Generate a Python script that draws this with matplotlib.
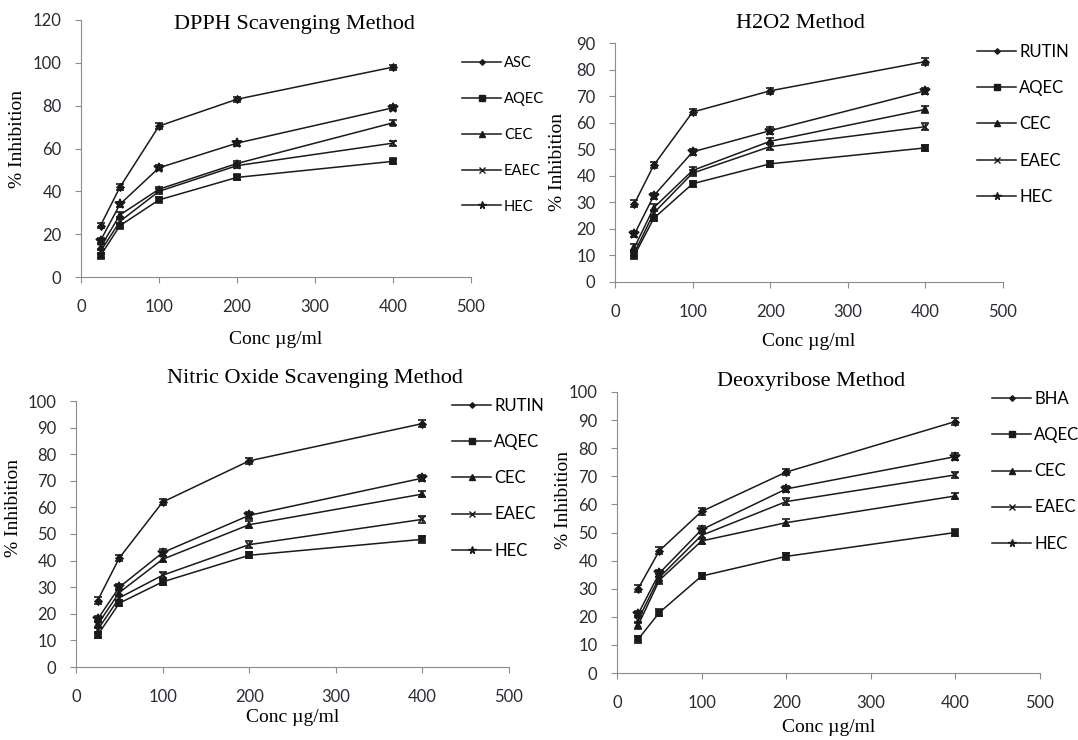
import matplotlib
matplotlib.use("Agg")
import matplotlib.pyplot as plt
from matplotlib.lines import Line2D
import numpy as np

# concentrations (ug/ml)
CONC = [25, 50, 100, 200, 400]

# DPPH scavenging
DPPH_NAMES = ["ASC", "AQEC", "CEC", "EAEC", "HEC"]
DPPH_ASC = [24, 42, 70.5, 83, 98]
DPPH_AQEC = [10, 24, 36, 46.5, 54]
DPPH_CEC = [14, 29, 41, 53, 72]
DPPH_EAEC = [12, 26, 40, 52, 62.5]
DPPH_HEC = [17, 34, 51, 62.5, 79]

# H2O2 method
H2O2_NAMES = ["RUTIN", "AQEC", "CEC", "EAEC", "HEC"]
H2O2_RUTIN = [29.5, 44, 64, 72, 83]
H2O2_AQEC = [10, 24, 37, 44.5, 50.5]
H2O2_CEC = [13, 28, 42, 53, 65]
H2O2_EAEC = [11, 26, 41, 51, 58.5]
H2O2_HEC = [18, 32.5, 49, 57, 72]

# nitric oxide scavenging
NO_NAMES = ["RUTIN", "AQEC", "CEC", "EAEC", "HEC"]
NO_RUTIN = [25, 41, 62, 77.5, 91.5]
NO_AQEC = [12, 24, 32, 42, 48]
NO_CEC = [16, 28, 40.5, 53.5, 65]
NO_EAEC = [14, 26, 34.5, 46, 55.5]
NO_HEC = [18, 30, 43, 57, 71]

# deoxyribose method
DEOXY_NAMES = ["BHA", "AQEC", "CEC", "EAEC", "HEC"]
DEOXY_BHA = [30, 43.5, 57.5, 71.5, 89.5]
DEOXY_AQEC = [12, 21.5, 34.5, 41.5, 50]
DEOXY_CEC = [17, 33, 47, 53.5, 63]
DEOXY_EAEC = [19, 34, 49, 61, 70.5]
DEOXY_HEC = [21, 35.5, 51, 65.5, 77]

# approximate SEM shown as small error bars
ERR = [1.2, 1.2, 1.2, 1.2, 1.2]

MARKERS = ["D", "s", "^", "x", "*"]
MSIZES = [3.5, 5, 5, 5, 7]
INK = "#1a1a1a"
AXIS_GREY = "#8c8c8c"
SERIF = "Liberation Serif"

W, H = 1078, 740

# layout in pixels: axes box (left, right, top, bottom), title centre,
# y of x-label, centre of y-label, legend top-left and its font size
panels = [
    dict(title="DPPH Scavenging Method", names=DPPH_NAMES,
         series=[DPPH_ASC, DPPH_AQEC, DPPH_CEC, DPPH_EAEC, DPPH_HEC],
         ymax=120, ystep=20, box=(81, 471, 20, 277), title_xy=(294, 25),
         xlab_y=340, ylab_xy=(18, 139), legend=(462, 56), leg_fs=10.6),
    dict(title="H2O2 Method", names=H2O2_NAMES,
         series=[H2O2_RUTIN, H2O2_AQEC, H2O2_CEC, H2O2_EAEC, H2O2_HEC],
         ymax=90, ystep=10, box=(615, 1003, 43, 282), title_xy=(800, 23),
         xlab_y=342, ylab_xy=(558, 162), legend=(977, 44), leg_fs=12),
    dict(title="Nitric Oxide Scavenging Method", names=NO_NAMES,
         series=[NO_RUTIN, NO_AQEC, NO_CEC, NO_EAEC, NO_HEC],
         ymax=100, ystep=10, box=(76, 509, 401, 667), title_xy=(315, 378),
         xlab_y=717, ylab_xy=(14, 508), legend=(452, 398), leg_fs=12),
    dict(title="Deoxyribose Method", names=DEOXY_NAMES,
         series=[DEOXY_BHA, DEOXY_AQEC, DEOXY_CEC, DEOXY_EAEC, DEOXY_HEC],
         ymax=100, ystep=10, box=(617, 1040, 392, 673), title_xy=(811, 382),
         xlab_y=728, ylab_xy=(563, 500), legend=(992, 391), leg_fs=12),
]

fig = plt.figure(figsize=(W / 100, H / 100), dpi=100)

for p in panels:
    x0, x1, y0, y1 = p["box"]
    ax = fig.add_axes([x0 / W, 1 - y1 / H, (x1 - x0) / W, (y1 - y0) / H])
    for vals, mk, ms in zip(p["series"], MARKERS, MSIZES):
        ax.errorbar(CONC, vals, yerr=ERR, color=INK, lw=1.1, marker=mk,
                    ms=ms, mew=1.2, capsize=3, elinewidth=1.0, capthick=1.0)
    ax.set_xlim(0, 500)
    ax.set_ylim(0, p["ymax"])
    ax.set_xticks(np.arange(0, 501, 100))
    ax.set_yticks(np.arange(0, p["ymax"] + 1, p["ystep"]))
    for s in ("top", "right"):
        ax.spines[s].set_visible(False)
    for s in ("left", "bottom"):
        ax.spines[s].set_color(AXIS_GREY)
    ax.tick_params(axis="both", direction="out", length=4, color=AXIS_GREY,
                   labelsize=12, labelcolor="#2b2b33")
    ax.tick_params(axis="x", pad=12)
    ax.tick_params(axis="y", pad=10)
    for lab in ax.get_xticklabels() + ax.get_yticklabels():
        lab.set_fontfamily("Lato")

    tx, ty = p["title_xy"]
    fig.text(tx / W, 1 - ty / H, p["title"], family=SERIF, fontsize=16,
             ha="center", va="center")
    lx, ly = p["ylab_xy"]
    fig.text(lx / W, 1 - ly / H, "% Inhibition", family=SERIF, fontsize=14,
             rotation=90, ha="center", va="center")
    fig.text((x0 + x1) / 2 / W, 1 - p["xlab_y"] / H, "Conc µg/ml",
             family=SERIF, fontsize=14, ha="center", va="center")

    # legend shows plain line + marker, no error bars
    handles = [Line2D([], [], color=INK, lw=1.1, marker=mk, ms=ms * 0.8,
                      mew=1.0, label=name)
               for name, mk, ms in zip(p["names"], MARKERS, MSIZES)]
    fs = p["leg_fs"]
    fs_px = fs * 100 / 72
    gx, gy = p["legend"]
    ax.legend(handles=handles, loc="upper left",
              bbox_to_anchor=(gx / W, 1 - gy / H),
              bbox_transform=fig.transFigure, frameon=False,
              handlelength=39 / fs_px, handletextpad=0.2,
              labelspacing=(35 - 0.89 * fs_px) / fs_px,
              borderpad=0, borderaxespad=0,
              prop={"family": "Lato", "size": fs})

fig.savefig("out.png", dpi=100)
